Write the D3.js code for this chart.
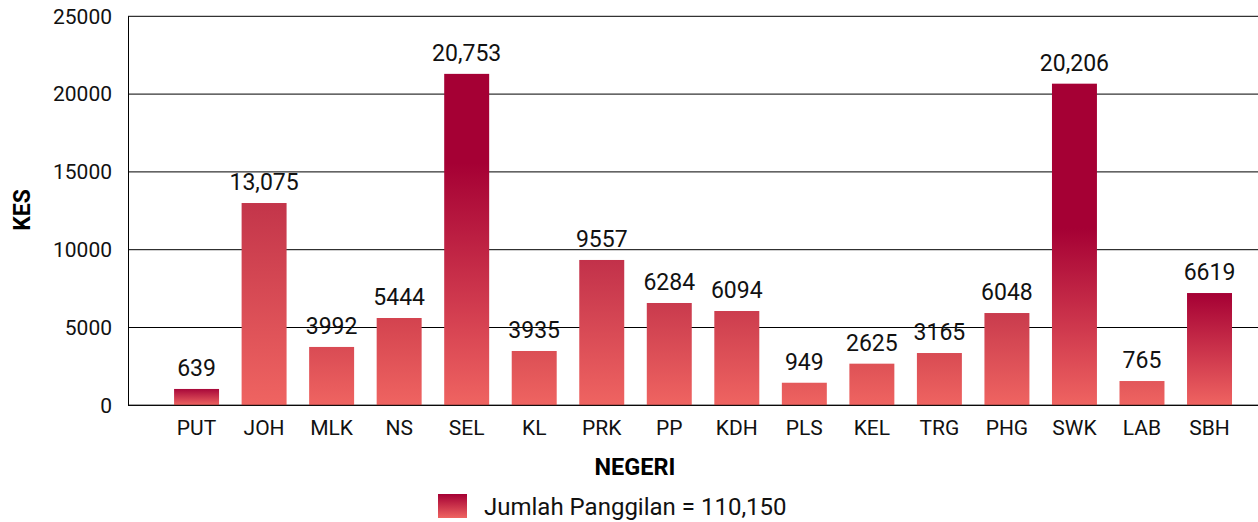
<!DOCTYPE html>
<html>
<head>
<meta charset="utf-8">
<script src="https://cdn.jsdelivr.net/npm/d3@7"></script>
<style>
  html, body { margin: 0; padding: 0; background: #fff; }
  svg { display: block; font-family: Roboto, "Noto Sans", sans-serif; }
</style>
</head>
<body>
<svg id="chart" width="1258" height="522"></svg>
<script>
// ---- data ----
const categories = ["PUT","JOH","MLK","NS","SEL","KL","PRK","PP","KDH","PLS","KEL","TRG","PHG","SWK","LAB","SBH"];
const barValues = [1050, 13000, 3750, 5610, 21300, 3490, 9340, 6575, 6060, 1450, 2675, 3360, 5930, 20670, 1560, 7215];
const valueLabels = ["639","13,075","3992","5444","20,753","3935","9557","6284","6094","949","2625","3165","6048","20,206","765","6619"];
const yTicks = [0, 5000, 10000, 15000, 20000, 25000];
const seriesName = "Jumlah Panggilan = 110,150";
const xTitle = "NEGERI";
const yTitle = "KES";

// ---- styles (gradient top colour and how far the dark part extends, per bar) ----
const bottomColor = "#ef6461";
const darkColor = "#a50034";
const barTopColors = ["#a8083a","#c3354a","#d94b54","#d3434f","#a50034","#db4f55","#c2314a","#c93a4d","#cc3d4e","#e4595a","#de5256","#d84b53","#c93b4d","#a50034","#e2575a","#a50034"];
const barDarkStop = [0, 0, 0, 0, 0.27, 0, 0, 0, 0, 0, 0, 0, 0, 0.45, 0, 0];

const svg = d3.select("#chart");
const plot = { left: 128, right: 1258, top: 16.3, bottom: 405.3 };

const x = d3.scaleBand()
  .domain(categories)
  .range([162.8, 162.8 + 16 * 67.53])
  .paddingInner(0.334)
  .paddingOuter(0.167);

const y = d3.scaleLinear().domain([0, 25000]).range([plot.bottom, plot.top]);

// gradients
const defs = svg.append("defs");
categories.forEach((c, i) => {
  const g = defs.append("linearGradient")
    .attr("id", "grad" + i)
    .attr("x1", 0).attr("y1", 0).attr("x2", 0).attr("y2", 1);
  g.append("stop").attr("offset", 0).attr("stop-color", barTopColors[i]);
  if (barDarkStop[i] > 0) g.append("stop").attr("offset", barDarkStop[i]).attr("stop-color", darkColor);
  g.append("stop").attr("offset", 1).attr("stop-color", bottomColor);
});
const lg = defs.append("linearGradient").attr("id", "legendGrad")
  .attr("x1", 0).attr("y1", 0).attr("x2", 0).attr("y2", 1);
lg.append("stop").attr("offset", 0).attr("stop-color", darkColor);
lg.append("stop").attr("offset", 1).attr("stop-color", bottomColor);

// grid lines
svg.append("g").selectAll("line").data(yTicks).join("line")
  .attr("x1", plot.left).attr("x2", plot.right)
  .attr("y1", d => y(d)).attr("y2", d => y(d))
  .attr("stroke", "#000").attr("stroke-width", 1);

// y axis line
svg.append("line")
  .attr("x1", plot.left + 0.5).attr("x2", plot.left + 0.5)
  .attr("y1", y(25000)).attr("y2", y(0))
  .attr("stroke", "#000").attr("stroke-width", 1);

// y tick labels
svg.append("g").selectAll("text").data(yTicks).join("text")
  .attr("x", 112).attr("y", d => y(d))
  .attr("dy", "0.35em")
  .attr("text-anchor", "end")
  .attr("font-size", 21)
  .attr("fill", "#111")
  .text(d => d);

// bars
svg.append("g").selectAll("rect").data(categories).join("rect")
  .attr("x", d => x(d))
  .attr("width", x.bandwidth())
  .attr("y", (d, i) => y(barValues[i]))
  .attr("height", (d, i) => y(0) - y(barValues[i]))
  .attr("fill", (d, i) => `url(#grad${i})`);

// baseline redraw on top
svg.append("line")
  .attr("x1", plot.left).attr("x2", plot.right)
  .attr("y1", y(0)).attr("y2", y(0))
  .attr("stroke", "#000").attr("stroke-width", 1);

// value labels
svg.append("g").selectAll("text").data(categories).join("text")
  .attr("x", d => x(d) + x.bandwidth() / 2)
  .attr("y", (d, i) => y(barValues[i]) - 13)
  .attr("text-anchor", "middle")
  .attr("font-size", 23)
  .attr("fill", "#111")
  .text((d, i) => valueLabels[i]);

// category labels
svg.append("g").selectAll("text").data(categories).join("text")
  .attr("x", d => x(d) + x.bandwidth() / 2)
  .attr("y", 435)
  .attr("text-anchor", "middle")
  .attr("font-size", 21)
  .attr("fill", "#111")
  .text(d => d);

// axis titles
svg.append("text")
  .attr("x", 635).attr("y", 475)
  .attr("text-anchor", "middle")
  .attr("font-size", 23.5).attr("font-weight", "bold")
  .attr("fill", "#000")
  .text(xTitle);

svg.append("text")
  .attr("transform", "translate(30,210) rotate(-90)")
  .attr("text-anchor", "middle")
  .attr("font-size", 23).attr("font-weight", "bold")
  .attr("fill", "#000")
  .text(yTitle);

// legend
svg.append("rect")
  .attr("x", 438).attr("y", 494).attr("width", 29).attr("height", 24)
  .attr("fill", "url(#legendGrad)");
svg.append("text")
  .attr("x", 484).attr("y", 515)
  .attr("font-size", 24)
  .attr("fill", "#111")
  .text(seriesName);
</script>
</body>
</html>
